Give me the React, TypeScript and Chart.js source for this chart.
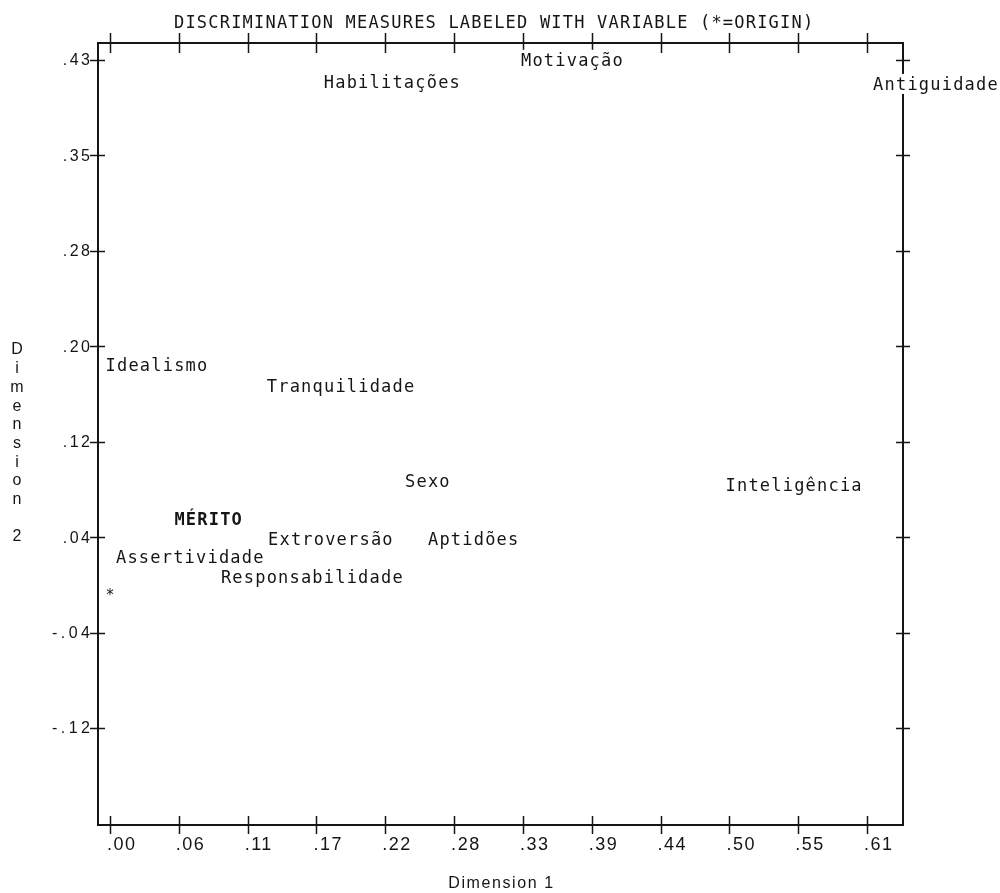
import React, { useEffect, useRef } from "react";
import { Chart, registerables } from "chart.js";

Chart.register(...registerables);

// Variable names and their discrimination measures
const variableNames = [
  "Habilitações",
  "Motivação",
  "Antiguidade",
  "Idealismo",
  "Tranquilidade",
  "Sexo",
  "Inteligência",
  "MÉRITO",
  "Extroversão",
  "Aptidões",
  "Assertividade",
  "Responsabilidade",
];
const dimension1 = [0.177, 0.336, 0.62, 0.001, 0.131, 0.2425, 0.501, 0.0565, 0.132, 0.261, 0.0094, 0.094];
const dimension2 = [0.424, 0.442, 0.422, 0.189, 0.172, 0.093, 0.09, 0.062, 0.045, 0.045, 0.03, 0.014];
const boldNames = ["MÉRITO"];

// Axis ticks
const xTickValues = [0, 0.0555, 0.111, 0.1665, 0.222, 0.2775, 0.333, 0.3885, 0.444, 0.4995, 0.555, 0.6105];
const xTickLabels = [".00", ".06", ".11", ".17", ".22", ".28", ".33", ".39", ".44", ".50", ".55", ".61"];
const yTickValues = [-0.1195, -0.0405, 0.0385, 0.1175, 0.1965, 0.2755, 0.3545, 0.4335];
const yTickLabels = ["-.12", "-.04", ".04", ".12", ".20", ".28", ".35", ".43"];

const TITLE = "DISCRIMINATION MEASURES LABELED WITH VARIABLE (*=ORIGIN)";
const X_TITLE = "Dimension 1";
const Y_TITLE = "Dimension 2";

const MONO = '"DejaVu Sans Mono", monospace';
const SANS = '"Liberation Sans", Arial, sans-serif';
const INK = "#151515";

const plotPlugin = {
  id: "printerPlot",
  beforeDraw(chart: any) {
    const { ctx, width, height } = chart;
    ctx.save();
    ctx.fillStyle = "#ffffff";
    ctx.fillRect(0, 0, width, height);
    ctx.restore();
  },
  afterDatasetsDraw(chart: any) {
    const { ctx, chartArea } = chart;
    const { left, right, top, bottom } = chartArea;
    const xs = chart.scales.x;
    const ys = chart.scales.y;
    ctx.save();
    ctx.strokeStyle = INK;
    ctx.fillStyle = INK;

    // frame
    ctx.lineWidth = 2;
    ctx.strokeRect(left, top, right - left, bottom - top);

    // tick marks crossing the frame
    ctx.lineWidth = 1.5;
    ctx.beginPath();
    xTickValues.forEach((v) => {
      const px = Math.round(xs.getPixelForValue(v)) + 0.5;
      ctx.moveTo(px, bottom - 9);
      ctx.lineTo(px, bottom + 9);
      ctx.moveTo(px, top - 10);
      ctx.lineTo(px, top + 10);
    });
    yTickValues.forEach((v) => {
      const py = Math.round(ys.getPixelForValue(v)) + 0.5;
      ctx.moveTo(left - 8, py);
      ctx.lineTo(left + 7, py);
      ctx.moveTo(right - 7, py);
      ctx.lineTo(right + 7, py);
    });
    ctx.stroke();

    // x tick labels
    ctx.font = `18px ${SANS}`;
    (ctx as any).letterSpacing = "1.5px";
    ctx.textBaseline = "alphabetic";
    ctx.textAlign = "left";
    xTickValues.forEach((v, i) => {
      const px = xs.getPixelForValue(v);
      ctx.fillText(xTickLabels[i], px - 3, bottom + 25);
    });

    // y tick labels
    ctx.font = `16px ${SANS}`;
    ctx.textBaseline = "middle";
    ctx.textAlign = "right";
    yTickValues.forEach((v, i) => {
      const py = ys.getPixelForValue(v);
      const neg = yTickLabels[i].startsWith("-");
      const sp = neg ? 3.5 : 2.5;
      (ctx as any).letterSpacing = `${sp}px`;
      ctx.fillText(yTickLabels[i], left - 8 + sp, py + 1);
    });

    // x axis title
    ctx.font = `16px ${SANS}`;
    (ctx as any).letterSpacing = "1.6px";
    ctx.textAlign = "center";
    ctx.textBaseline = "alphabetic";
    ctx.fillText(X_TITLE, (left + right) / 2 + 1, bottom + 63);
    (ctx as any).letterSpacing = "0px";

    // y axis title, stacked letters
    ctx.font = `16px ${SANS}`;
    ctx.textAlign = "center";
    ctx.textBaseline = "middle";
    const chars = Array.from(Y_TITLE);
    const step = 18.7;
    chars.forEach((ch, i) => {
      if (ch !== " ") ctx.fillText(ch, 17, 350 + i * step);
    });

    // main title
    ctx.font = `17px ${MONO}`;
    (ctx as any).letterSpacing = "1.2px";
    ctx.textAlign = "left";
    ctx.textBaseline = "alphabetic";
    ctx.fillText(TITLE, 174, 28);

    // variable labels: each label's character cell hangs from its point
    const drawLabel = (text: string, x: number, y: number, bold: boolean) => {
      const px = xs.getPixelForValue(x);
      const py = ys.getPixelForValue(y);
      ctx.font = `${bold ? "bold " : ""}17px ${MONO}`;
      const w = ctx.measureText(text).width;
      const tx = px - 5.7;
      const base = py + 16;
      ctx.fillStyle = "#ffffff";
      ctx.fillRect(tx - 1, base - 16, w + 2, 20);
      ctx.fillStyle = INK;
      ctx.fillText(text, tx, base);
    };
    variableNames.forEach((name, i) => {
      drawLabel(name, dimension1[i], dimension2[i], boldNames.includes(name));
    });

    // origin marker
    const ox = xs.getPixelForValue(0);
    const oy = ys.getPixelForValue(0);
    ctx.font = `15px ${MONO}`;
    ctx.fillText("*", ox - 4.5, oy + 16);

    ctx.restore();
  },
};

export default function App() {
  const canvasRef = useRef<HTMLCanvasElement | null>(null);

  useEffect(() => {
    document.body.style.margin = "0";
    const canvas = canvasRef.current;
    if (!canvas) return;
    const points = variableNames.map((_, i) => ({ x: dimension1[i], y: dimension2[i] }));
    const chart = new Chart(canvas, {
      type: "scatter",
      data: {
        datasets: [
          {
            label: "Discrimination measures",
            data: points,
            pointRadius: 0,
            pointHoverRadius: 0,
          },
        ],
      },
      options: {
        responsive: false,
        animation: false,
        layout: { padding: { left: 98, right: 97, top: 43, bottom: 68 } },
        scales: {
          x: { type: "linear", min: -0.0097, max: 0.6395, display: false },
          y: { type: "linear", min: -0.1998, max: 0.4476, display: false },
        },
        plugins: {
          legend: { display: false },
          tooltip: { enabled: false },
        },
      },
      plugins: [plotPlugin],
    });
    return () => chart.destroy();
  }, []);

  return (
    <div style={{ width: 1000, height: 893, background: "#fff" }}>
      <canvas ref={canvasRef} width={1000} height={893} />
    </div>
  );
}
